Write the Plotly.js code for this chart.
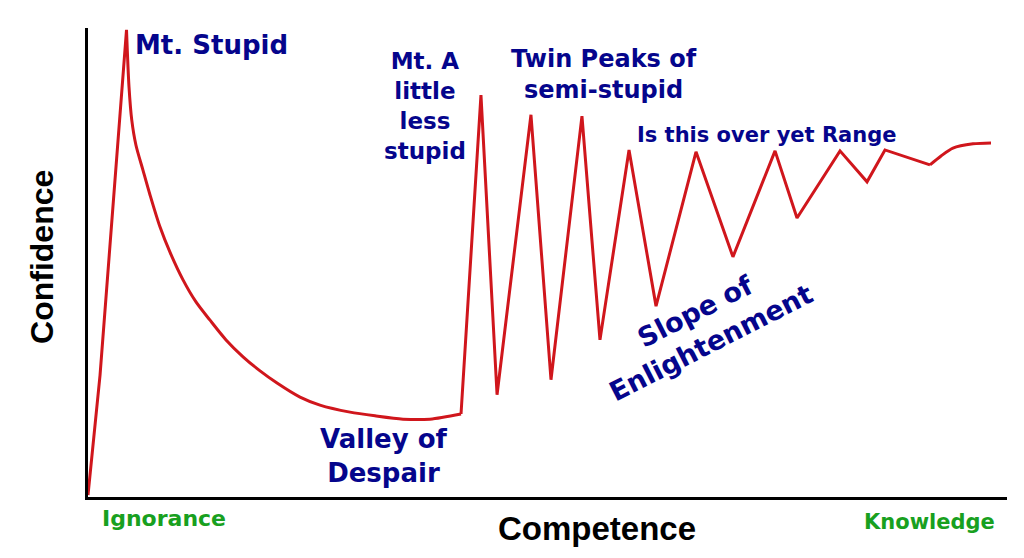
<!DOCTYPE html>
<html>
<head>
<meta charset="utf-8">
<script src="https://cdn.plot.ly/plotly-3.0.1.min.js"></script>
<style>html,body{margin:0;padding:0;background:#fff;}#chart{width:1024px;height:558px;}</style>
</head>
<body>
<div id="chart"></div>
<script>
// Competence (x) and Confidence (y), both on a 0-100 scale
// Rise to Mt. Stupid
const riseX = [0, 1.31, 4.19];
const riseY = [0.4, 26.0, 99.6];
// Descent from Mt. Stupid into the Valley of Despair
const descentX = [4.19, 4.46, 4.76, 5.22, 5.98, 6.75, 7.83, 8.92, 10.34, 11.75, 13.28, 15.02, 16.87, 18.72, 20.57, 23.07, 25.24, 28.51, 31.23, 34.28, 37.21, 40.59];
const descentY = [99.6, 87.5, 80.4, 75.0, 69.7, 64.4, 57.6, 52.2, 46.3, 41.6, 37.7, 33.5, 29.9, 26.9, 24.3, 21.3, 19.6, 18.1, 17.3, 16.6, 16.6, 17.7];
// Zig-zags of the later peaks
const zigX = [40.59, 42.76, 44.51, 48.20, 50.38, 53.75, 55.71, 58.87, 61.81, 66.16, 70.18, 74.76, 77.15, 81.83, 84.77, 86.72, 91.62];
const zigY = [17.7, 85.7, 21.8, 81.5, 25.0, 81.2, 33.5, 74.0, 40.7, 73.6, 51.2, 73.8, 59.5, 73.8, 67.2, 74.0, 70.8];
// Final plateau of knowledge
const plateauX = [91.62, 92.82, 94.12, 96.30, 98.26];
const plateauY = [70.8, 72.7, 74.4, 75.3, 75.5];

const stageLabels = ["Mt. Stupid", "Mt. A<br>little<br>less<br>stupid", "Twin Peaks of<br>semi-stupid", "Is this over yet Range", "Valley of<br>Despair", "Slope of<br>Enlightenment"];
const stageX = [13.49, 36.67, 56.15, 73.88, 32.21, 66.92];
const stageY = [96.4, 83.4, 90.0, 77.2, 8.74, 36.3];
const stageSize = [26, 23, 24, 21, 26, 27];
const stageAngle = [0, 0, 0, 0, 0, -27];

const endLabels = ["Ignorance", "Knowledge"];
const endX = [8.27, 91.62];
const endY = [-4.69, -5.33];
const endSize = [22, 21];

const xTitle = "Competence";
const yTitle = "Confidence";

const blue = "#05058c";
const green = "#18a020";
const red = "#d0161c";
const verd = "DejaVu Sans, Verdana, sans-serif";
const arialB = "Liberation Sans, Arial, sans-serif";

const annotations = [];
stageLabels.forEach((t, i) => annotations.push({
  text: "<b>" + t + "</b>", x: stageX[i], y: stageY[i], xref: "x", yref: "y",
  showarrow: false, xanchor: "center", yanchor: "middle", align: "center",
  textangle: stageAngle[i], font: {family: verd, size: stageSize[i], color: blue}
}));
endLabels.forEach((t, i) => annotations.push({
  text: "<b>" + t + "</b>", x: endX[i] / 100, y: endY[i] / 100, xref: "paper", yref: "paper",
  showarrow: false, xanchor: "center", yanchor: "middle",
  font: {family: verd, size: endSize[i], color: green}
}));
annotations.push({text: "<b>" + xTitle + "</b>", x: 0.5539, y: -0.0682, xref: "paper", yref: "paper",
  showarrow: false, xanchor: "center", yanchor: "middle", font: {family: arialB, size: 33, color: "#000"}});
annotations.push({text: "<b>" + yTitle + "</b>", x: -0.05, y: 0.512, xref: "paper", yref: "paper", textangle: -90,
  showarrow: false, xanchor: "center", yanchor: "middle", font: {family: arialB, size: 32, color: "#000"}});

const seg = (x, y, shape) => ({x: x, y: y, type: "scatter", mode: "lines",
  line: {color: red, width: 3, shape: shape, smoothing: 0.8}, hoverinfo: "skip"});
const data = [
  seg(riseX, riseY, "linear"),
  seg(descentX, descentY, "spline"),
  seg(zigX, zigY, "linear"),
  seg(plateauX, plateauY, "spline")
];

const layout = {
  width: 1024, height: 558,
  margin: {l: 88, r: 17, t: 28, b: 61},
  paper_bgcolor: "#fff", plot_bgcolor: "#fff",
  showlegend: false,
  xaxis: {range: [0, 100], showgrid: false, zeroline: false, showticklabels: false, ticks: "",
    showline: true, linecolor: "#000", linewidth: 3, fixedrange: true},
  yaxis: {range: [0, 100], showgrid: false, zeroline: false, showticklabels: false, ticks: "",
    showline: true, linecolor: "#000", linewidth: 3, fixedrange: true},
  annotations: annotations
};

Plotly.newPlot("chart", data, layout, {displayModeBar: false, staticPlot: true});
</script>
</body>
</html>
